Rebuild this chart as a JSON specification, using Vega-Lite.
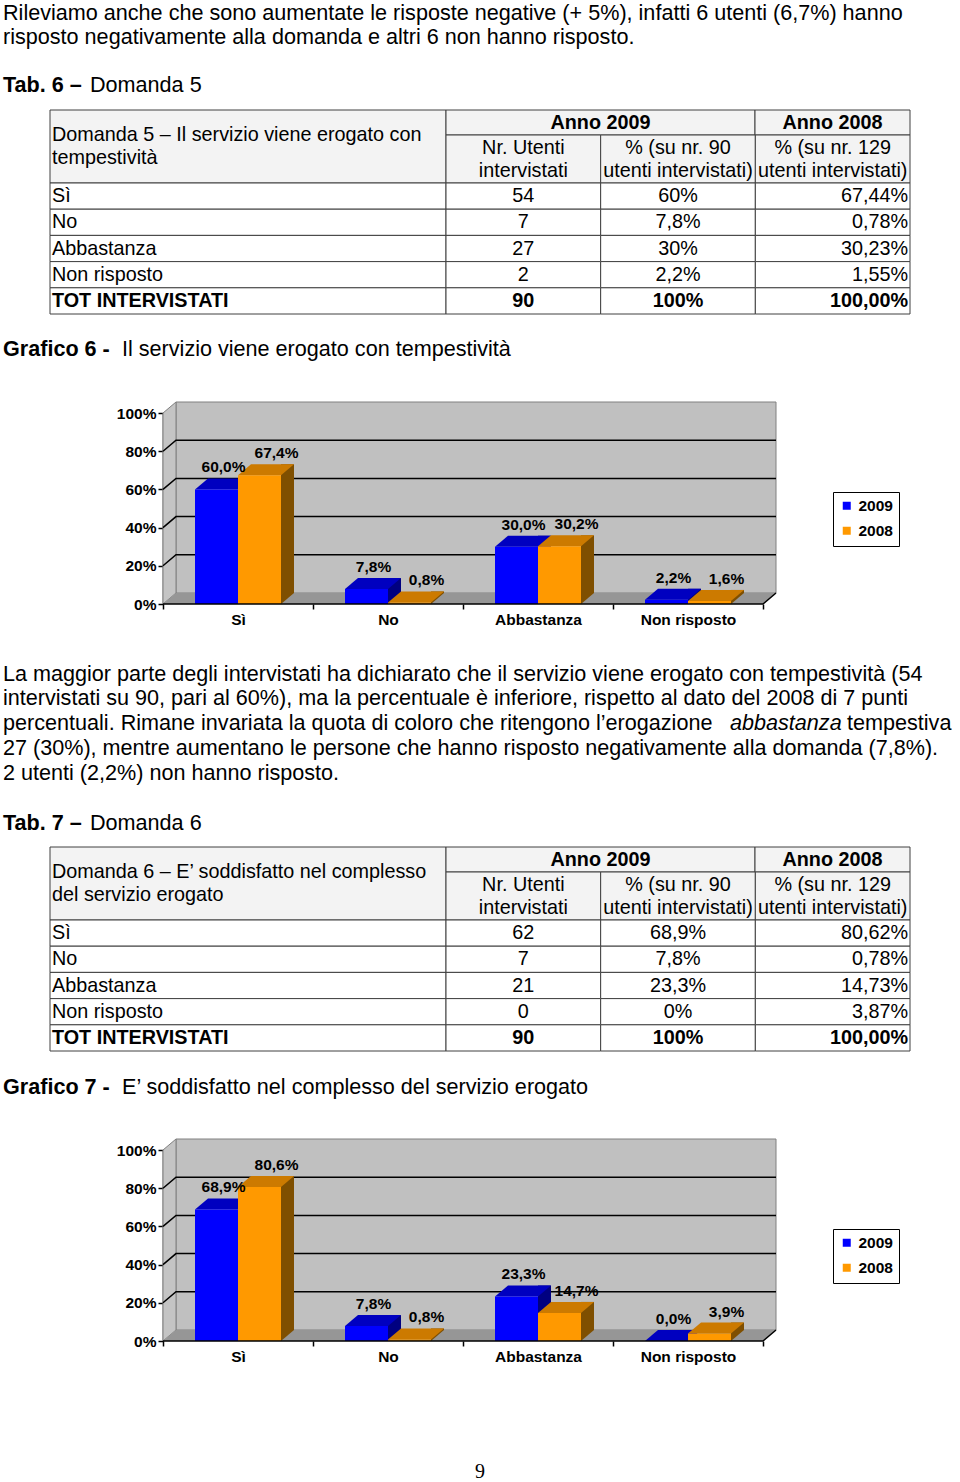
{
"$schema": "https://vega.github.io/schema/vega-lite/v6.json",
"padding": 0,
"spacing": 0,
"bounds": "flush",
"center": true,
"resolve": {"scale": {"fill": "independent"}, "legend": {"fill": "independent"}},
"datasets": {
 "p1": [
  {"l": 0, "t": "Rileviamo anche che sono aumentate le risposte negative (+ 5%), infatti 6 utenti (6,7%) hanno"},
  {"l": 1, "t": "risposto negativamente alla domanda e altri 6 non hanno risposto."},
  {"l": 3, "b": "Tab. 6 –", "t": "Domanda 5"}
 ],
 "g6": [{"l": 0, "b": "Grafico 6 -", "t": "Il servizio viene erogato con tempestività"}],
 "g7": [{"l": 0, "b": "Grafico 7 -", "t": "E’ soddisfatto nel complesso del servizio erogato"}],
 "p2": [
  {"l": 0, "t": "La maggior parte degli intervistati ha dichiarato che il servizio viene erogato con tempestività (54"},
  {"l": 1, "t": "intervistati su 90, pari al 60%), ma la percentuale è inferiore, rispetto al dato del 2008 di 7 punti"},
  {"l": 2, "t": "percentuali. Rimane invariata la quota di coloro che ritengono l’erogazione", "i": "abbastanza", "e": "tempestiva"},
  {"l": 3, "t": "27 (30%), mentre aumentano le persone che hanno risposto negativamente alla domanda (7,8%)."},
  {"l": 4, "t": "2 utenti (2,2%) non hanno risposto."},
  {"l": 6, "b": "Tab. 7 –", "t": "Domanda 6"}
 ],
 "pg": [{"l": 0, "t": "9"}],
 "t6": [
  {"r": "Sì", "n": "54", "p09": "60%", "p08": "67,44%"},
  {"r": "No", "n": "7", "p09": "7,8%", "p08": "0,78%"},
  {"r": "Abbastanza", "n": "27", "p09": "30%", "p08": "30,23%"},
  {"r": "Non risposto", "n": "2", "p09": "2,2%", "p08": "1,55%"},
  {"r": "TOT INTERVISTATI", "n": "90", "p09": "100%", "p08": "100,00%", "tot": true}
 ],
 "t7": [
  {"r": "Sì", "n": "62", "p09": "68,9%", "p08": "80,62%"},
  {"r": "No", "n": "7", "p09": "7,8%", "p08": "0,78%"},
  {"r": "Abbastanza", "n": "21", "p09": "23,3%", "p08": "14,73%"},
  {"r": "Non risposto", "n": "0", "p09": "0%", "p08": "3,87%"},
  {"r": "TOT INTERVISTATI", "n": "90", "p09": "100%", "p08": "100,00%", "tot": true}
 ],
 "c6": [
  {"cat": "Sì", "year": "2009", "v": 60.0, "lab": "60,0%"},
  {"cat": "Sì", "year": "2008", "v": 67.4, "lab": "67,4%"},
  {"cat": "No", "year": "2009", "v": 7.8, "lab": "7,8%"},
  {"cat": "No", "year": "2008", "v": 0.8, "lab": "0,8%"},
  {"cat": "Abbastanza", "year": "2009", "v": 30.0, "lab": "30,0%"},
  {"cat": "Abbastanza", "year": "2008", "v": 30.2, "lab": "30,2%"},
  {"cat": "Non risposto", "year": "2009", "v": 2.2, "lab": "2,2%"},
  {"cat": "Non risposto", "year": "2008", "v": 1.6, "lab": "1,6%"}
 ],
 "c7": [
  {"cat": "Sì", "year": "2009", "v": 68.9, "lab": "68,9%"},
  {"cat": "Sì", "year": "2008", "v": 80.6, "lab": "80,6%"},
  {"cat": "No", "year": "2009", "v": 7.8, "lab": "7,8%"},
  {"cat": "No", "year": "2008", "v": 0.8, "lab": "0,8%"},
  {"cat": "Abbastanza", "year": "2009", "v": 23.3, "lab": "23,3%"},
  {"cat": "Abbastanza", "year": "2008", "v": 14.7, "lab": "14,7%"},
  {"cat": "Non risposto", "year": "2009", "v": 0.0, "lab": "0,0%"},
  {"cat": "Non risposto", "year": "2008", "v": 3.9, "lab": "3,9%"}
 ],
 "grid": [{"g": 20}, {"g": 40}, {"g": 60}, {"g": 80}]
},
"vconcat": [
 {
  "width": 960, "height": 110,
  "data": {"name": "p1"},
  "encoding": {
   "x": {"value": 0},
   "y": {"field": "l", "type": "ordinal", "axis": null, "scale": {"type": "point", "domain": [0, 1, 2, 3], "padding": 0.79167, "align": 0.51316}}
  },
  "layer": [
   {"transform": [{"filter": "!isValid(datum.b)"}], "mark": {"type": "text", "align": "left", "baseline": "alphabetic", "dx": 3}, "encoding": {"text": {"field": "t"}}},
   {"transform": [{"filter": "isValid(datum.b)"}], "mark": {"type": "text", "align": "left", "baseline": "alphabetic", "dx": 3, "fontWeight": "bold"}, "encoding": {"text": {"field": "b"}}},
   {"transform": [{"filter": "isValid(datum.b)"}], "mark": {"type": "text", "align": "left", "baseline": "alphabetic", "dx": 90}, "encoding": {"text": {"field": "t"}}}
  ]
 },
 {
  "width": 960, "height": 204,
  "resolve": {"scale": {"x": "independent", "y": "independent"}},
  "layer": [
   {
    "data": {"values": [{"k": "h", "t": ["Domanda 5 – Il servizio viene erogato con", "tempestività"]}]},
    "encoding": {
     "x": {"field": "k", "type": "nominal", "axis": null, "scale": {"domain": ["h"], "range": [50, 446], "paddingInner": 0, "paddingOuter": 0}},
     "y": {"field": "k", "type": "nominal", "axis": null, "scale": {"domain": ["h"], "range": [0, 73], "paddingInner": 0, "paddingOuter": 0}}
    },
    "layer": [
     {"mark": {"type": "rect", "fill": "#f3f3f3", "stroke": "#404040", "strokeWidth": 1}},
     {"mark": {"type": "text", "align": "left", "baseline": "middle", "lineHeight": 23, "fontSize": 19.8, "dx": 2, "dy": -11.5}, "encoding": {"text": {"field": "t"}, "x": {"field": "k", "type": "nominal", "bandPosition": 0}}}
    ]
   },
   {
    "data": {"values": [{"k": "a", "t": "Anno 2009"}]},
    "encoding": {
     "x": {"field": "k", "type": "nominal", "axis": null, "scale": {"domain": ["a"], "range": [446, 755], "paddingInner": 0, "paddingOuter": 0}},
     "y": {"field": "k", "type": "nominal", "axis": null, "scale": {"domain": ["a"], "range": [0, 25], "paddingInner": 0, "paddingOuter": 0}}
    },
    "layer": [
     {"mark": {"type": "rect", "fill": "#f3f3f3", "stroke": "#404040", "strokeWidth": 1}},
     {"mark": {"type": "text", "align": "center", "baseline": "middle", "fontSize": 19.8, "fontWeight": "bold"}, "encoding": {"text": {"field": "t"}}}
    ]
   },
   {
    "data": {"values": [{"k": "b", "t": "Anno 2008"}]},
    "encoding": {
     "x": {"field": "k", "type": "nominal", "axis": null, "scale": {"domain": ["b"], "range": [755, 910], "paddingInner": 0, "paddingOuter": 0}},
     "y": {"field": "k", "type": "nominal", "axis": null, "scale": {"domain": ["b"], "range": [0, 25], "paddingInner": 0, "paddingOuter": 0}}
    },
    "layer": [
     {"mark": {"type": "rect", "fill": "#f3f3f3", "stroke": "#404040", "strokeWidth": 1}},
     {"mark": {"type": "text", "align": "center", "baseline": "middle", "fontSize": 19.8, "fontWeight": "bold"}, "encoding": {"text": {"field": "t"}}}
    ]
   },
   {
    "data": {"values": [{"k": "n", "r": "s", "t": ["Nr. Utenti", "intervistati"]}, {"k": "p09", "r": "s", "t": ["% (su nr. 90", "utenti intervistati)"]}, {"k": "p08", "r": "s", "t": ["% (su nr. 129", "utenti intervistati)"]}]},
    "encoding": {
     "x": {"field": "k", "type": "nominal", "axis": null, "scale": {"domain": ["n", "p09", "p08"], "range": [446, 910], "paddingInner": 0, "paddingOuter": 0}},
     "y": {"field": "r", "type": "nominal", "axis": null, "scale": {"domain": ["s"], "range": [25, 73], "paddingInner": 0, "paddingOuter": 0}}
    },
    "layer": [
     {"mark": {"type": "rect", "fill": "#f3f3f3", "stroke": "#404040", "strokeWidth": 1}},
     {"mark": {"type": "text", "align": "center", "baseline": "middle", "lineHeight": 23, "fontSize": 19.8, "dy": -11.5}, "encoding": {"text": {"field": "t"}}}
    ]
   },
   {
    "data": {"name": "t6"},
    "transform": [{"fold": ["r"], "as": ["k", "val"]}],
    "encoding": {
     "x": {"field": "k", "type": "nominal", "axis": null, "scale": {"domain": ["r"], "range": [50, 446], "paddingInner": 0, "paddingOuter": 0}},
     "y": {"field": "r", "type": "nominal", "axis": null, "scale": {"domain": ["Sì", "No", "Abbastanza", "Non risposto", "TOT INTERVISTATI"], "range": [73, 204], "paddingInner": 0, "paddingOuter": 0}}
    },
    "layer": [
     {"mark": {"type": "rect", "fill": "white", "stroke": "#404040", "strokeWidth": 1}},
     {"transform": [{"filter": "!datum.tot"}], "mark": {"type": "text", "align": "left", "baseline": "middle", "fontSize": 19.8, "dx": 2}, "encoding": {"text": {"field": "val"}, "x": {"field": "k", "type": "nominal", "bandPosition": 0}}},
     {"transform": [{"filter": "datum.tot"}], "mark": {"type": "text", "align": "left", "baseline": "middle", "fontSize": 19.8, "fontWeight": "bold", "dx": 2}, "encoding": {"text": {"field": "val"}, "x": {"field": "k", "type": "nominal", "bandPosition": 0}}}
    ]
   },
   {
    "data": {"name": "t6"},
    "transform": [{"fold": ["n", "p09", "p08"], "as": ["k", "val"]}],
    "encoding": {
     "x": {"field": "k", "type": "nominal", "axis": null, "scale": {"domain": ["n", "p09", "p08"], "range": [446, 910], "paddingInner": 0, "paddingOuter": 0}},
     "y": {"field": "r", "type": "nominal", "axis": null, "scale": {"domain": ["Sì", "No", "Abbastanza", "Non risposto", "TOT INTERVISTATI"], "range": [73, 204], "paddingInner": 0, "paddingOuter": 0}}
    },
    "layer": [
     {"mark": {"type": "rect", "fill": "white", "stroke": "#404040", "strokeWidth": 1}},
     {"transform": [{"filter": "datum.k != 'p08' && !datum.tot"}], "mark": {"type": "text", "align": "center", "baseline": "middle", "fontSize": 19.8}, "encoding": {"text": {"field": "val"}}},
     {"transform": [{"filter": "datum.k != 'p08' && datum.tot"}], "mark": {"type": "text", "align": "center", "baseline": "middle", "fontSize": 19.8, "fontWeight": "bold"}, "encoding": {"text": {"field": "val"}}},
     {"transform": [{"filter": "datum.k == 'p08' && !datum.tot"}], "mark": {"type": "text", "align": "right", "baseline": "middle", "fontSize": 19.8, "dx": -2}, "encoding": {"text": {"field": "val"}, "x": {"field": "k", "type": "nominal", "bandPosition": 1}}},
     {"transform": [{"filter": "datum.k == 'p08' && datum.tot"}], "mark": {"type": "text", "align": "right", "baseline": "middle", "fontSize": 19.8, "fontWeight": "bold", "dx": -2}, "encoding": {"text": {"field": "val"}, "x": {"field": "k", "type": "nominal", "bandPosition": 1}}}
    ]
   }
  ]
 },
 {
  "width": 960, "height": 99,
  "data": {"name": "g6"},
  "encoding": {
   "x": {"value": 0},
   "y": {"field": "l", "type": "ordinal", "axis": null, "scale": {"type": "point", "domain": [0], "padding": 1, "align": 0.4242}}
  },
  "layer": [
   {"mark": {"type": "text", "align": "left", "baseline": "alphabetic", "dx": 3, "fontWeight": "bold"}, "encoding": {"text": {"field": "b"}}},
   {"mark": {"type": "text", "align": "left", "baseline": "alphabetic", "dx": 122}, "encoding": {"text": {"field": "t"}}}
  ]
 },
 {
  "width": 634, "height": 191,
  "layer": [
   {"data": {"values": [{}]}, "mark": {"type": "point", "shape": "M13,-11L613,-11L613,-202L13,-202Z", "size": 4, "filled": true, "opacity": 1, "fill": "#c0c0c0", "stroke": "#808080", "strokeWidth": 1},
    "encoding": {"x": {"value": 0}, "y": {"datum": 0, "type": "quantitative", "title": null, "scale": {"domain": [0, 100], "nice": false}, "axis": {"values": [0, 20, 40, 60, 80, 100], "labelExpr": "datum.value + '%'"}}}},
   {"data": {"values": [{}]}, "mark": {"type": "point", "shape": "M0,0L0,-191L13,-202L13,-11Z", "size": 4, "filled": true, "opacity": 1, "fill": "#c4c4c4", "stroke": "#808080", "strokeWidth": 1},
    "encoding": {"x": {"value": 0}, "y": {"datum": 0, "type": "quantitative", "title": null, "scale": {"domain": [0, 100], "nice": false}, "axis": {"values": [0, 20, 40, 60, 80, 100], "labelExpr": "datum.value + '%'"}}}},
   {"data": {"values": [{}]}, "mark": {"type": "point", "shape": "M0,0L600,0L613,-11L13,-11Z", "size": 4, "filled": true, "opacity": 1, "fill": "#969696", "strokeWidth": 0},
    "encoding": {"x": {"value": 0}, "y": {"datum": 0, "type": "quantitative", "title": null, "scale": {"domain": [0, 100], "nice": false}, "axis": {"values": [0, 20, 40, 60, 80, 100], "labelExpr": "datum.value + '%'"}}}},
   {"data": {"name": "grid"}, "mark": {"type": "point", "shape": "M0,0L13,-11L613,-11", "size": 4, "filled": false, "opacity": 1, "fill": "transparent", "stroke": "black", "strokeWidth": 1.5},
    "encoding": {"x": {"value": 0}, "y": {"field": "g", "type": "quantitative", "title": null, "scale": {"domain": [0, 100], "nice": false}, "axis": {"values": [0, 20, 40, 60, 80, 100], "labelExpr": "datum.value + '%'"}}}},
   {"data": {"name": "c6"}, "transform": [{"filter": "datum.year == '2009'"}],
    "mark": {"type": "bar", "width": 13, "xOffset": 6.5, "yOffset": -11, "y2Offset": -11, "fill": "#000080"},
    "encoding": {"x": {"field": "cat", "type": "nominal", "title": null, "scale": {"domain": ["Sì", "No", "Abbastanza", "Non risposto"], "paddingInner": 0, "paddingOuter": 0.113333, "align": 0}},
     "y": {"field": "v", "type": "quantitative", "title": null, "scale": {"domain": [0, 100], "nice": false}, "axis": {"values": [0, 20, 40, 60, 80, 100], "labelExpr": "datum.value + '%'"}}}},
   {"data": {"name": "c6"}, "transform": [{"filter": "datum.year == '2009'"}],
    "mark": {"type": "point", "shape": "M0,0L0,-11L13,-11Z", "size": 4, "filled": true, "opacity": 1, "fill": "#000080", "strokeWidth": 0},
    "encoding": {"x": {"field": "cat", "type": "nominal", "title": null, "scale": {"domain": ["Sì", "No", "Abbastanza", "Non risposto"], "paddingInner": 0, "paddingOuter": 0.113333, "align": 0}},
     "y": {"datum": 0, "type": "quantitative", "title": null, "scale": {"domain": [0, 100], "nice": false}, "axis": {"values": [0, 20, 40, 60, 80, 100], "labelExpr": "datum.value + '%'"}}}},
   {"data": {"name": "c6"}, "transform": [{"filter": "datum.year == '2009'"}],
    "mark": {"type": "point", "shape": "M-43,0L0,0L13,-11L-30,-11Z", "size": 4, "filled": true, "opacity": 1, "fill": "#0000c0", "strokeWidth": 0},
    "encoding": {"x": {"field": "cat", "type": "nominal", "title": null, "scale": {"domain": ["Sì", "No", "Abbastanza", "Non risposto"], "paddingInner": 0, "paddingOuter": 0.113333, "align": 0}},
     "y": {"field": "v", "type": "quantitative", "title": null, "scale": {"domain": [0, 100], "nice": false}, "axis": {"values": [0, 20, 40, 60, 80, 100], "labelExpr": "datum.value + '%'"}}}},
   {"data": {"name": "c6"}, "transform": [{"filter": "datum.year == '2008'"}],
    "mark": {"type": "bar", "width": 13, "xOffset": 49.5, "yOffset": -11, "y2Offset": -11, "fill": "#7f4f00"},
    "encoding": {"x": {"field": "cat", "type": "nominal", "title": null, "scale": {"domain": ["Sì", "No", "Abbastanza", "Non risposto"], "paddingInner": 0, "paddingOuter": 0.113333, "align": 0}},
     "y": {"field": "v", "type": "quantitative", "title": null, "scale": {"domain": [0, 100], "nice": false}, "axis": {"values": [0, 20, 40, 60, 80, 100], "labelExpr": "datum.value + '%'"}}}},
   {"data": {"name": "c6"}, "transform": [{"filter": "datum.year == '2008'"}],
    "mark": {"type": "point", "shape": "M43,0L43,-11L56,-11Z", "size": 4, "filled": true, "opacity": 1, "fill": "#7f4f00", "strokeWidth": 0},
    "encoding": {"x": {"field": "cat", "type": "nominal", "title": null, "scale": {"domain": ["Sì", "No", "Abbastanza", "Non risposto"], "paddingInner": 0, "paddingOuter": 0.113333, "align": 0}},
     "y": {"datum": 0, "type": "quantitative", "title": null, "scale": {"domain": [0, 100], "nice": false}, "axis": {"values": [0, 20, 40, 60, 80, 100], "labelExpr": "datum.value + '%'"}}}},
   {"data": {"name": "c6"}, "transform": [{"filter": "datum.year == '2008'"}],
    "mark": {"type": "point", "shape": "M0,0L43,0L56,-11L13,-11Z", "size": 4, "filled": true, "opacity": 1, "fill": "#cc7a00", "strokeWidth": 0},
    "encoding": {"x": {"field": "cat", "type": "nominal", "title": null, "scale": {"domain": ["Sì", "No", "Abbastanza", "Non risposto"], "paddingInner": 0, "paddingOuter": 0.113333, "align": 0}},
     "y": {"field": "v", "type": "quantitative", "title": null, "scale": {"domain": [0, 100], "nice": false}, "axis": {"values": [0, 20, 40, 60, 80, 100], "labelExpr": "datum.value + '%'"}}}},
   {"data": {"name": "c6"},
    "mark": {"type": "bar"},
    "encoding": {"x": {"field": "cat", "type": "nominal", "title": null, "scale": {"domain": ["Sì", "No", "Abbastanza", "Non risposto"], "paddingInner": 0, "paddingOuter": 0.113333, "align": 0}},
     "xOffset": {"field": "year", "type": "nominal", "sort": null, "scale": {"domain": ["2009", "2008"], "paddingInner": 0, "paddingOuter": 0.7442}},
     "y": {"field": "v", "type": "quantitative", "title": null, "scale": {"domain": [0, 100], "nice": false}, "axis": {"values": [0, 20, 40, 60, 80, 100], "labelExpr": "datum.value + '%'"}},
     "fill": {"field": "year", "type": "nominal", "sort": null, "scale": {"domain": ["2009", "2008"], "range": ["#0000ff", "#ff9900"]}, "legend": {"title": null, "orient": "none", "legendX": 670, "legendY": 79}}}},
   {"data": {"values": [{}]}, "mark": {"type": "point", "shape": "M0,0L600,0L613,-11", "size": 4, "filled": false, "opacity": 1, "fill": "transparent", "stroke": "black", "strokeWidth": 1.5},
    "encoding": {"x": {"value": 0}, "y": {"datum": 0, "type": "quantitative", "title": null, "scale": {"domain": [0, 100], "nice": false}, "axis": {"values": [0, 20, 40, 60, 80, 100], "labelExpr": "datum.value + '%'"}}}},
   {"data": {"name": "c6"}, "transform": [{"filter": "datum.year == '2009'"}],
    "mark": {"type": "text", "fontSize": 15.5, "fontWeight": "bold", "baseline": "middle", "align": "center", "dx": 7, "dy": -22},
    "encoding": {"x": {"field": "cat", "type": "nominal", "title": null, "scale": {"domain": ["Sì", "No", "Abbastanza", "Non risposto"], "paddingInner": 0, "paddingOuter": 0.113333, "align": 0}},
     "xOffset": {"field": "year", "type": "nominal", "sort": null, "scale": {"domain": ["2009", "2008"], "paddingInner": 0, "paddingOuter": 0.7442}},
     "y": {"field": "v", "type": "quantitative", "title": null, "scale": {"domain": [0, 100], "nice": false}, "axis": {"values": [0, 20, 40, 60, 80, 100], "labelExpr": "datum.value + '%'"}},
     "text": {"field": "lab"}}},
   {"data": {"name": "c6"}, "transform": [{"filter": "datum.year == '2008'"}],
    "mark": {"type": "text", "fontSize": 15.5, "fontWeight": "bold", "baseline": "middle", "align": "center", "dx": 17, "dy": -22},
    "encoding": {"x": {"field": "cat", "type": "nominal", "title": null, "scale": {"domain": ["Sì", "No", "Abbastanza", "Non risposto"], "paddingInner": 0, "paddingOuter": 0.113333, "align": 0}},
     "xOffset": {"field": "year", "type": "nominal", "sort": null, "scale": {"domain": ["2009", "2008"], "paddingInner": 0, "paddingOuter": 0.7442}},
     "y": {"field": "v", "type": "quantitative", "title": null, "scale": {"domain": [0, 100], "nice": false}, "axis": {"values": [0, 20, 40, 60, 80, 100], "labelExpr": "datum.value + '%'"}},
     "text": {"field": "lab"}}}
  ]
 },
 {
  "width": 960, "height": 243,
  "data": {"name": "p2"},
  "encoding": {
   "x": {"value": 0},
   "y": {"field": "l", "type": "ordinal", "axis": null, "scale": {"type": "point", "domain": [-3, -2, -1, 0, 1, 2, 3, 4, 5, 6], "padding": 0.399, "align": 0.116}}
  },
  "layer": [
   {"transform": [{"filter": "!isValid(datum.b)"}], "mark": {"type": "text", "align": "left", "baseline": "alphabetic", "dx": 3}, "encoding": {"text": {"field": "t"}}},
   {"transform": [{"filter": "isValid(datum.i)"}], "mark": {"type": "text", "align": "left", "baseline": "alphabetic", "dx": 730, "fontStyle": "italic"}, "encoding": {"text": {"field": "i"}}},
   {"transform": [{"filter": "isValid(datum.e)"}], "mark": {"type": "text", "align": "left", "baseline": "alphabetic", "dx": 847}, "encoding": {"text": {"field": "e"}}},
   {"transform": [{"filter": "isValid(datum.b)"}], "mark": {"type": "text", "align": "left", "baseline": "alphabetic", "dx": 3, "fontWeight": "bold"}, "encoding": {"text": {"field": "b"}}},
   {"transform": [{"filter": "isValid(datum.b)"}], "mark": {"type": "text", "align": "left", "baseline": "alphabetic", "dx": 90}, "encoding": {"text": {"field": "t"}}}
  ]
 },
 {
  "width": 960, "height": 204,
  "resolve": {"scale": {"x": "independent", "y": "independent"}},
  "layer": [
   {
    "data": {"values": [{"k": "h", "t": ["Domanda 6 – E’ soddisfatto nel complesso", "del servizio erogato"]}]},
    "encoding": {
     "x": {"field": "k", "type": "nominal", "axis": null, "scale": {"domain": ["h"], "range": [50, 446], "paddingInner": 0, "paddingOuter": 0}},
     "y": {"field": "k", "type": "nominal", "axis": null, "scale": {"domain": ["h"], "range": [0, 73], "paddingInner": 0, "paddingOuter": 0}}
    },
    "layer": [
     {"mark": {"type": "rect", "fill": "#f3f3f3", "stroke": "#404040", "strokeWidth": 1}},
     {"mark": {"type": "text", "align": "left", "baseline": "middle", "lineHeight": 23, "fontSize": 19.8, "dx": 2, "dy": -11.5}, "encoding": {"text": {"field": "t"}, "x": {"field": "k", "type": "nominal", "bandPosition": 0}}}
    ]
   },
   {
    "data": {"values": [{"k": "a", "t": "Anno 2009"}]},
    "encoding": {
     "x": {"field": "k", "type": "nominal", "axis": null, "scale": {"domain": ["a"], "range": [446, 755], "paddingInner": 0, "paddingOuter": 0}},
     "y": {"field": "k", "type": "nominal", "axis": null, "scale": {"domain": ["a"], "range": [0, 25], "paddingInner": 0, "paddingOuter": 0}}
    },
    "layer": [
     {"mark": {"type": "rect", "fill": "#f3f3f3", "stroke": "#404040", "strokeWidth": 1}},
     {"mark": {"type": "text", "align": "center", "baseline": "middle", "fontSize": 19.8, "fontWeight": "bold"}, "encoding": {"text": {"field": "t"}}}
    ]
   },
   {
    "data": {"values": [{"k": "b", "t": "Anno 2008"}]},
    "encoding": {
     "x": {"field": "k", "type": "nominal", "axis": null, "scale": {"domain": ["b"], "range": [755, 910], "paddingInner": 0, "paddingOuter": 0}},
     "y": {"field": "k", "type": "nominal", "axis": null, "scale": {"domain": ["b"], "range": [0, 25], "paddingInner": 0, "paddingOuter": 0}}
    },
    "layer": [
     {"mark": {"type": "rect", "fill": "#f3f3f3", "stroke": "#404040", "strokeWidth": 1}},
     {"mark": {"type": "text", "align": "center", "baseline": "middle", "fontSize": 19.8, "fontWeight": "bold"}, "encoding": {"text": {"field": "t"}}}
    ]
   },
   {
    "data": {"values": [{"k": "n", "r": "s", "t": ["Nr. Utenti", "intervistati"]}, {"k": "p09", "r": "s", "t": ["% (su nr. 90", "utenti intervistati)"]}, {"k": "p08", "r": "s", "t": ["% (su nr. 129", "utenti intervistati)"]}]},
    "encoding": {
     "x": {"field": "k", "type": "nominal", "axis": null, "scale": {"domain": ["n", "p09", "p08"], "range": [446, 910], "paddingInner": 0, "paddingOuter": 0}},
     "y": {"field": "r", "type": "nominal", "axis": null, "scale": {"domain": ["s"], "range": [25, 73], "paddingInner": 0, "paddingOuter": 0}}
    },
    "layer": [
     {"mark": {"type": "rect", "fill": "#f3f3f3", "stroke": "#404040", "strokeWidth": 1}},
     {"mark": {"type": "text", "align": "center", "baseline": "middle", "lineHeight": 23, "fontSize": 19.8, "dy": -11.5}, "encoding": {"text": {"field": "t"}}}
    ]
   },
   {
    "data": {"name": "t7"},
    "transform": [{"fold": ["r"], "as": ["k", "val"]}],
    "encoding": {
     "x": {"field": "k", "type": "nominal", "axis": null, "scale": {"domain": ["r"], "range": [50, 446], "paddingInner": 0, "paddingOuter": 0}},
     "y": {"field": "r", "type": "nominal", "axis": null, "scale": {"domain": ["Sì", "No", "Abbastanza", "Non risposto", "TOT INTERVISTATI"], "range": [73, 204], "paddingInner": 0, "paddingOuter": 0}}
    },
    "layer": [
     {"mark": {"type": "rect", "fill": "white", "stroke": "#404040", "strokeWidth": 1}},
     {"transform": [{"filter": "!datum.tot"}], "mark": {"type": "text", "align": "left", "baseline": "middle", "fontSize": 19.8, "dx": 2}, "encoding": {"text": {"field": "val"}, "x": {"field": "k", "type": "nominal", "bandPosition": 0}}},
     {"transform": [{"filter": "datum.tot"}], "mark": {"type": "text", "align": "left", "baseline": "middle", "fontSize": 19.8, "fontWeight": "bold", "dx": 2}, "encoding": {"text": {"field": "val"}, "x": {"field": "k", "type": "nominal", "bandPosition": 0}}}
    ]
   },
   {
    "data": {"name": "t7"},
    "transform": [{"fold": ["n", "p09", "p08"], "as": ["k", "val"]}],
    "encoding": {
     "x": {"field": "k", "type": "nominal", "axis": null, "scale": {"domain": ["n", "p09", "p08"], "range": [446, 910], "paddingInner": 0, "paddingOuter": 0}},
     "y": {"field": "r", "type": "nominal", "axis": null, "scale": {"domain": ["Sì", "No", "Abbastanza", "Non risposto", "TOT INTERVISTATI"], "range": [73, 204], "paddingInner": 0, "paddingOuter": 0}}
    },
    "layer": [
     {"mark": {"type": "rect", "fill": "white", "stroke": "#404040", "strokeWidth": 1}},
     {"transform": [{"filter": "datum.k != 'p08' && !datum.tot"}], "mark": {"type": "text", "align": "center", "baseline": "middle", "fontSize": 19.8}, "encoding": {"text": {"field": "val"}}},
     {"transform": [{"filter": "datum.k != 'p08' && datum.tot"}], "mark": {"type": "text", "align": "center", "baseline": "middle", "fontSize": 19.8, "fontWeight": "bold"}, "encoding": {"text": {"field": "val"}}},
     {"transform": [{"filter": "datum.k == 'p08' && !datum.tot"}], "mark": {"type": "text", "align": "right", "baseline": "middle", "fontSize": 19.8, "dx": -2}, "encoding": {"text": {"field": "val"}, "x": {"field": "k", "type": "nominal", "bandPosition": 1}}},
     {"transform": [{"filter": "datum.k == 'p08' && datum.tot"}], "mark": {"type": "text", "align": "right", "baseline": "middle", "fontSize": 19.8, "fontWeight": "bold", "dx": -2}, "encoding": {"text": {"field": "val"}, "x": {"field": "k", "type": "nominal", "bandPosition": 1}}}
    ]
   }
  ]
 },
 {
  "width": 960, "height": 99,
  "data": {"name": "g7"},
  "encoding": {
   "x": {"value": 0},
   "y": {"field": "l", "type": "ordinal", "axis": null, "scale": {"type": "point", "domain": [0], "padding": 1, "align": 0.4293}}
  },
  "layer": [
   {"mark": {"type": "text", "align": "left", "baseline": "alphabetic", "dx": 3, "fontWeight": "bold"}, "encoding": {"text": {"field": "b"}}},
   {"mark": {"type": "text", "align": "left", "baseline": "alphabetic", "dx": 122}, "encoding": {"text": {"field": "t"}}}
  ]
 },
 {
  "width": 634, "height": 191,
  "layer": [
   {"data": {"values": [{}]}, "mark": {"type": "point", "shape": "M13,-11L613,-11L613,-202L13,-202Z", "size": 4, "filled": true, "opacity": 1, "fill": "#c0c0c0", "stroke": "#808080", "strokeWidth": 1},
    "encoding": {"x": {"value": 0}, "y": {"datum": 0, "type": "quantitative", "title": null, "scale": {"domain": [0, 100], "nice": false}, "axis": {"values": [0, 20, 40, 60, 80, 100], "labelExpr": "datum.value + '%'"}}}},
   {"data": {"values": [{}]}, "mark": {"type": "point", "shape": "M0,0L0,-191L13,-202L13,-11Z", "size": 4, "filled": true, "opacity": 1, "fill": "#c4c4c4", "stroke": "#808080", "strokeWidth": 1},
    "encoding": {"x": {"value": 0}, "y": {"datum": 0, "type": "quantitative", "title": null, "scale": {"domain": [0, 100], "nice": false}, "axis": {"values": [0, 20, 40, 60, 80, 100], "labelExpr": "datum.value + '%'"}}}},
   {"data": {"values": [{}]}, "mark": {"type": "point", "shape": "M0,0L600,0L613,-11L13,-11Z", "size": 4, "filled": true, "opacity": 1, "fill": "#969696", "strokeWidth": 0},
    "encoding": {"x": {"value": 0}, "y": {"datum": 0, "type": "quantitative", "title": null, "scale": {"domain": [0, 100], "nice": false}, "axis": {"values": [0, 20, 40, 60, 80, 100], "labelExpr": "datum.value + '%'"}}}},
   {"data": {"name": "grid"}, "mark": {"type": "point", "shape": "M0,0L13,-11L613,-11", "size": 4, "filled": false, "opacity": 1, "fill": "transparent", "stroke": "black", "strokeWidth": 1.5},
    "encoding": {"x": {"value": 0}, "y": {"field": "g", "type": "quantitative", "title": null, "scale": {"domain": [0, 100], "nice": false}, "axis": {"values": [0, 20, 40, 60, 80, 100], "labelExpr": "datum.value + '%'"}}}},
   {"data": {"name": "c7"}, "transform": [{"filter": "datum.year == '2009'"}],
    "mark": {"type": "bar", "width": 13, "xOffset": 6.5, "yOffset": -11, "y2Offset": -11, "fill": "#000080"},
    "encoding": {"x": {"field": "cat", "type": "nominal", "title": null, "scale": {"domain": ["Sì", "No", "Abbastanza", "Non risposto"], "paddingInner": 0, "paddingOuter": 0.113333, "align": 0}},
     "y": {"field": "v", "type": "quantitative", "title": null, "scale": {"domain": [0, 100], "nice": false}, "axis": {"values": [0, 20, 40, 60, 80, 100], "labelExpr": "datum.value + '%'"}}}},
   {"data": {"name": "c7"}, "transform": [{"filter": "datum.year == '2009'"}],
    "mark": {"type": "point", "shape": "M0,0L0,-11L13,-11Z", "size": 4, "filled": true, "opacity": 1, "fill": "#000080", "strokeWidth": 0},
    "encoding": {"x": {"field": "cat", "type": "nominal", "title": null, "scale": {"domain": ["Sì", "No", "Abbastanza", "Non risposto"], "paddingInner": 0, "paddingOuter": 0.113333, "align": 0}},
     "y": {"datum": 0, "type": "quantitative", "title": null, "scale": {"domain": [0, 100], "nice": false}, "axis": {"values": [0, 20, 40, 60, 80, 100], "labelExpr": "datum.value + '%'"}}}},
   {"data": {"name": "c7"}, "transform": [{"filter": "datum.year == '2009'"}],
    "mark": {"type": "point", "shape": "M-43,0L0,0L13,-11L-30,-11Z", "size": 4, "filled": true, "opacity": 1, "fill": "#0000c0", "strokeWidth": 0},
    "encoding": {"x": {"field": "cat", "type": "nominal", "title": null, "scale": {"domain": ["Sì", "No", "Abbastanza", "Non risposto"], "paddingInner": 0, "paddingOuter": 0.113333, "align": 0}},
     "y": {"field": "v", "type": "quantitative", "title": null, "scale": {"domain": [0, 100], "nice": false}, "axis": {"values": [0, 20, 40, 60, 80, 100], "labelExpr": "datum.value + '%'"}}}},
   {"data": {"name": "c7"}, "transform": [{"filter": "datum.year == '2008'"}],
    "mark": {"type": "bar", "width": 13, "xOffset": 49.5, "yOffset": -11, "y2Offset": -11, "fill": "#7f4f00"},
    "encoding": {"x": {"field": "cat", "type": "nominal", "title": null, "scale": {"domain": ["Sì", "No", "Abbastanza", "Non risposto"], "paddingInner": 0, "paddingOuter": 0.113333, "align": 0}},
     "y": {"field": "v", "type": "quantitative", "title": null, "scale": {"domain": [0, 100], "nice": false}, "axis": {"values": [0, 20, 40, 60, 80, 100], "labelExpr": "datum.value + '%'"}}}},
   {"data": {"name": "c7"}, "transform": [{"filter": "datum.year == '2008'"}],
    "mark": {"type": "point", "shape": "M43,0L43,-11L56,-11Z", "size": 4, "filled": true, "opacity": 1, "fill": "#7f4f00", "strokeWidth": 0},
    "encoding": {"x": {"field": "cat", "type": "nominal", "title": null, "scale": {"domain": ["Sì", "No", "Abbastanza", "Non risposto"], "paddingInner": 0, "paddingOuter": 0.113333, "align": 0}},
     "y": {"datum": 0, "type": "quantitative", "title": null, "scale": {"domain": [0, 100], "nice": false}, "axis": {"values": [0, 20, 40, 60, 80, 100], "labelExpr": "datum.value + '%'"}}}},
   {"data": {"name": "c7"}, "transform": [{"filter": "datum.year == '2008'"}],
    "mark": {"type": "point", "shape": "M0,0L43,0L56,-11L13,-11Z", "size": 4, "filled": true, "opacity": 1, "fill": "#cc7a00", "strokeWidth": 0},
    "encoding": {"x": {"field": "cat", "type": "nominal", "title": null, "scale": {"domain": ["Sì", "No", "Abbastanza", "Non risposto"], "paddingInner": 0, "paddingOuter": 0.113333, "align": 0}},
     "y": {"field": "v", "type": "quantitative", "title": null, "scale": {"domain": [0, 100], "nice": false}, "axis": {"values": [0, 20, 40, 60, 80, 100], "labelExpr": "datum.value + '%'"}}}},
   {"data": {"name": "c7"},
    "mark": {"type": "bar"},
    "encoding": {"x": {"field": "cat", "type": "nominal", "title": null, "scale": {"domain": ["Sì", "No", "Abbastanza", "Non risposto"], "paddingInner": 0, "paddingOuter": 0.113333, "align": 0}},
     "xOffset": {"field": "year", "type": "nominal", "sort": null, "scale": {"domain": ["2009", "2008"], "paddingInner": 0, "paddingOuter": 0.7442}},
     "y": {"field": "v", "type": "quantitative", "title": null, "scale": {"domain": [0, 100], "nice": false}, "axis": {"values": [0, 20, 40, 60, 80, 100], "labelExpr": "datum.value + '%'"}},
     "fill": {"field": "year", "type": "nominal", "sort": null, "scale": {"domain": ["2009", "2008"], "range": ["#0000ff", "#ff9900"]}, "legend": {"title": null, "orient": "none", "legendX": 670, "legendY": 79}}}},
   {"data": {"values": [{}]}, "mark": {"type": "point", "shape": "M0,0L600,0L613,-11", "size": 4, "filled": false, "opacity": 1, "fill": "transparent", "stroke": "black", "strokeWidth": 1.5},
    "encoding": {"x": {"value": 0}, "y": {"datum": 0, "type": "quantitative", "title": null, "scale": {"domain": [0, 100], "nice": false}, "axis": {"values": [0, 20, 40, 60, 80, 100], "labelExpr": "datum.value + '%'"}}}},
   {"data": {"name": "c7"}, "transform": [{"filter": "datum.year == '2009'"}],
    "mark": {"type": "text", "fontSize": 15.5, "fontWeight": "bold", "baseline": "middle", "align": "center", "dx": 7, "dy": -22},
    "encoding": {"x": {"field": "cat", "type": "nominal", "title": null, "scale": {"domain": ["Sì", "No", "Abbastanza", "Non risposto"], "paddingInner": 0, "paddingOuter": 0.113333, "align": 0}},
     "xOffset": {"field": "year", "type": "nominal", "sort": null, "scale": {"domain": ["2009", "2008"], "paddingInner": 0, "paddingOuter": 0.7442}},
     "y": {"field": "v", "type": "quantitative", "title": null, "scale": {"domain": [0, 100], "nice": false}, "axis": {"values": [0, 20, 40, 60, 80, 100], "labelExpr": "datum.value + '%'"}},
     "text": {"field": "lab"}}},
   {"data": {"name": "c7"}, "transform": [{"filter": "datum.year == '2008'"}],
    "mark": {"type": "text", "fontSize": 15.5, "fontWeight": "bold", "baseline": "middle", "align": "center", "dx": 17, "dy": -22},
    "encoding": {"x": {"field": "cat", "type": "nominal", "title": null, "scale": {"domain": ["Sì", "No", "Abbastanza", "Non risposto"], "paddingInner": 0, "paddingOuter": 0.113333, "align": 0}},
     "xOffset": {"field": "year", "type": "nominal", "sort": null, "scale": {"domain": ["2009", "2008"], "paddingInner": 0, "paddingOuter": 0.7442}},
     "y": {"field": "v", "type": "quantitative", "title": null, "scale": {"domain": [0, 100], "nice": false}, "axis": {"values": [0, 20, 40, 60, 80, 100], "labelExpr": "datum.value + '%'"}},
     "text": {"field": "lab"}}}
  ]
 },
 {
  "width": 960, "height": 141,
  "data": {"name": "pg"},
  "mark": {"type": "text", "align": "center", "baseline": "alphabetic", "font": "Liberation Serif", "fontSize": 20},
  "encoding": {
   "text": {"field": "t"},
   "x": {"field": "l", "type": "ordinal", "axis": null, "scale": {"type": "point", "domain": [0], "padding": 1, "align": 0.5}},
   "y": {"field": "l", "type": "ordinal", "axis": null, "scale": {"type": "point", "domain": [0], "padding": 1, "align": 0.9716}}
  }
 }
],
"config": {
 "view": {"stroke": null},
 "scale": {"round": false},
 "text": {"font": "Liberation Sans", "fontSize": 21.6, "color": "black"},
 "axis": {"labelFont": "Liberation Sans", "labelColor": "black", "labelFontWeight": "bold", "labelFontSize": 15.5, "domainColor": "black", "domainWidth": 1.5, "tickColor": "black", "tickWidth": 1.5, "tickSize": 5, "grid": false, "zindex": 1},
 "axisX": {"tickBand": "extent", "labelAngle": 0, "labelPadding": 3, "domain": false},
 "axisY": {"labelPadding": 2},
 "legend": {"labelFont": "Liberation Sans", "labelFontSize": 15.5, "labelFontWeight": "bold", "labelColor": "black", "symbolType": "square", "symbolSize": 64, "symbolStrokeWidth": 0, "strokeColor": "black", "fillColor": "white", "padding": 6, "rowPadding": 8, "labelOffset": 4}
}
}
